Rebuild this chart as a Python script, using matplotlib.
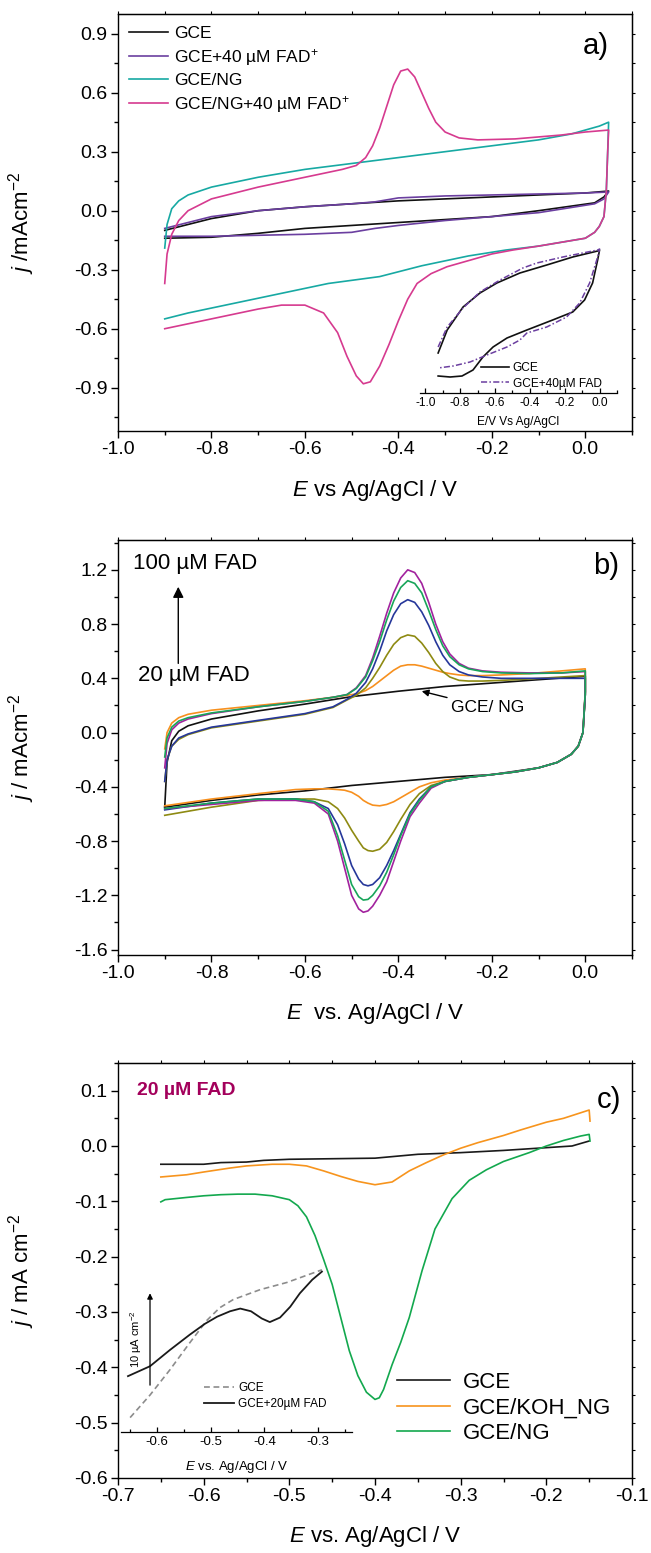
import matplotlib
matplotlib.use('Agg')
import matplotlib.pyplot as plt
from matplotlib.ticker import MultipleLocator, FuncFormatter, NullFormatter

plt.rcParams['font.family'] = ['Liberation Sans', 'DejaVu Sans']
plt.rcParams['mathtext.fontset'] = 'custom'
plt.rcParams['mathtext.rm'] = 'Liberation Sans'
plt.rcParams['mathtext.it'] = 'Liberation Sans:italic'
plt.rcParams['mathtext.bf'] = 'Liberation Sans:bold'
plt.rcParams['axes.unicode_minus'] = False

# ---------------- Panel a data ----------------
aE_gce_up = [-0.90, -0.80, -0.70, -0.60, -0.50, -0.40, -0.30, -0.20, -0.10, 0.00, 0.05]
aj_gce_up = [-0.10, -0.04, 0.00, 0.02, 0.035, 0.05, 0.06, 0.07, 0.08, 0.09, 0.10]
aE_gce_dn = [0.05, 0.04, 0.02, -0.10, -0.20, -0.30, -0.40, -0.50, -0.60, -0.70, -0.80, -0.90]
aj_gce_dn = [0.10, 0.07, 0.04, 0.00, -0.03, -0.045, -0.06, -0.075, -0.09, -0.115, -0.135, -0.14]

aE_fad_up = [-0.90, -0.80, -0.70, -0.60, -0.50, -0.45, -0.40, -0.35, -0.30, -0.20, -0.10, 0.00, 0.05]
aj_fad_up = [-0.09, -0.03, 0.00, 0.02, 0.035, 0.045, 0.065, 0.07, 0.075, 0.08, 0.085, 0.09, 0.095]
aE_fad_dn = [0.05, 0.04, 0.02, -0.10, -0.20, -0.30, -0.40, -0.45, -0.50, -0.60, -0.70, -0.80, -0.90]
aj_fad_dn = [0.095, 0.06, 0.035, -0.01, -0.03, -0.05, -0.075, -0.09, -0.11, -0.12, -0.125, -0.13, -0.13]

aE_ng_up = [-0.900, -0.895, -0.885, -0.870, -0.850, -0.800, -0.700, -0.600, -0.500, -0.400,
            -0.300, -0.200, -0.100, -0.030, 0.000, 0.030, 0.050]
aj_ng_up = [-0.19, -0.07, 0.01, 0.05, 0.08, 0.12, 0.17, 0.21, 0.24, 0.27,
            0.30, 0.33, 0.36, 0.39, 0.41, 0.43, 0.45]
aE_ng_dn = [0.050, 0.048, 0.045, 0.040, 0.030, 0.020, 0.000, -0.100, -0.170, -0.250,
            -0.350, -0.440, -0.550, -0.650, -0.750, -0.850, -0.900]
aj_ng_dn = [0.45, 0.30, 0.10, -0.03, -0.08, -0.11, -0.14, -0.18, -0.20, -0.23,
            -0.28, -0.335, -0.37, -0.42, -0.47, -0.52, -0.55]

aE_ngfad_up = [-0.900, -0.895, -0.885, -0.870, -0.850, -0.800, -0.700, -0.600, -0.520, -0.490,
               -0.470, -0.455, -0.440, -0.425, -0.410, -0.395, -0.380, -0.365, -0.350, -0.335,
               -0.320, -0.300, -0.270, -0.230, -0.150, -0.050, 0.000, 0.050]
aj_ngfad_up = [-0.37, -0.22, -0.12, -0.05, 0.00, 0.06, 0.12, 0.17, 0.21, 0.23,
               0.27, 0.33, 0.42, 0.53, 0.64, 0.71, 0.72, 0.68, 0.60, 0.52,
               0.45, 0.40, 0.37, 0.36, 0.365, 0.385, 0.40, 0.41]
aE_ngfad_dn = [0.050, 0.048, 0.045, 0.040, 0.030, 0.020, 0.000, -0.100, -0.155, -0.200,
               -0.296, -0.330, -0.360, -0.380, -0.400, -0.420, -0.440, -0.460, -0.475, -0.490,
               -0.510, -0.530, -0.560, -0.600, -0.650, -0.700, -0.800, -0.900]
aj_ngfad_dn = [0.41, 0.30, 0.10, -0.03, -0.08, -0.11, -0.14, -0.18, -0.20, -0.22,
               -0.285, -0.32, -0.37, -0.45, -0.56, -0.68, -0.79, -0.87, -0.88, -0.84,
               -0.74, -0.62, -0.52, -0.48, -0.48, -0.50, -0.55, -0.60]

# inset of panel a (arbitrary current units)
aiE_gce = [-0.926, -0.874, -0.783, -0.686, -0.589, -0.457, -0.303, -0.154, -0.011, 0.000,
           -0.011, -0.040, -0.086, -0.154, -0.269, -0.417, -0.531, -0.611, -0.669, -0.726,
           -0.789, -0.857, -0.926]
aij_gce = [0.40, 0.63, 0.86, 1.00, 1.10, 1.20, 1.28, 1.36, 1.42, 1.43,
           1.33, 1.10, 0.93, 0.81, 0.73, 0.63, 0.55, 0.46, 0.36, 0.23,
           0.17, 0.16, 0.17]
aiE_fad = [-0.926, -0.874, -0.783, -0.686, -0.571, -0.440, -0.360, -0.211, -0.011, 0.000,
           -0.011, -0.057, -0.114, -0.189, -0.303, -0.417, -0.457, -0.531, -0.646, -0.743,
           -0.840, -0.926]
aij_fad = [0.46, 0.66, 0.85, 1.01, 1.13, 1.25, 1.30, 1.36, 1.43, 1.44,
           1.36, 1.10, 0.90, 0.76, 0.66, 0.60, 0.53, 0.46, 0.38, 0.31,
           0.27, 0.25]

# ---------------- Panel b data ----------------
bE_up = [-0.900, -0.895, -0.885, -0.870, -0.850, -0.800, -0.700, -0.600, -0.540, -0.510,
         -0.490, -0.470, -0.455, -0.440, -0.425, -0.410, -0.395, -0.380, -0.365, -0.350,
         -0.335, -0.320, -0.305, -0.290, -0.270, -0.250, -0.220, -0.180, -0.120, -0.050, 0.000]
bE_dn = [0.000, 0.000, -0.005, -0.015, -0.030, -0.060, -0.100, -0.150, -0.200, -0.250,
         -0.300, -0.330, -0.355, -0.375, -0.395, -0.410, -0.425, -0.440, -0.455, -0.465,
         -0.475, -0.485, -0.500, -0.515, -0.530, -0.550, -0.580, -0.620, -0.700, -0.800, -0.900]

b100_up = [-0.26, -0.08, 0.02, 0.07, 0.10, 0.14, 0.19, 0.23, 0.26, 0.28,
           0.33, 0.42, 0.55, 0.71, 0.88, 1.03, 1.14, 1.20, 1.18, 1.10,
           0.96, 0.80, 0.67, 0.58, 0.51, 0.475, 0.455, 0.445, 0.44, 0.44, 0.45]
b100_dn = [0.45, 0.30, 0.00, -0.10, -0.16, -0.22, -0.26, -0.29, -0.31, -0.33,
           -0.36, -0.41, -0.52, -0.62, -0.80, -0.95, -1.10, -1.20, -1.28, -1.315,
           -1.325, -1.30, -1.20, -1.00, -0.80, -0.60, -0.52, -0.50, -0.50, -0.53, -0.56]
b80_up = [-0.18, -0.04, 0.04, 0.085, 0.11, 0.145, 0.19, 0.23, 0.26, 0.28,
          0.325, 0.41, 0.53, 0.67, 0.83, 0.97, 1.07, 1.12, 1.10, 1.03,
          0.90, 0.76, 0.64, 0.56, 0.50, 0.47, 0.45, 0.44, 0.435, 0.44, 0.455]
b80_dn = [0.455, 0.30, 0.00, -0.10, -0.16, -0.22, -0.26, -0.29, -0.31, -0.33,
          -0.36, -0.40, -0.50, -0.60, -0.76, -0.90, -1.03, -1.13, -1.20, -1.23,
          -1.235, -1.21, -1.12, -0.94, -0.76, -0.58, -0.51, -0.49, -0.49, -0.52, -0.56]
b60_up = [-0.36, -0.20, -0.10, -0.04, -0.01, 0.04, 0.09, 0.14, 0.19, 0.245,
          0.29, 0.37, 0.47, 0.60, 0.75, 0.87, 0.95, 0.98, 0.96, 0.89,
          0.79, 0.67, 0.57, 0.50, 0.45, 0.425, 0.41, 0.40, 0.40, 0.40, 0.40]
b60_dn = [0.40, 0.28, 0.00, -0.10, -0.16, -0.22, -0.26, -0.29, -0.31, -0.33,
          -0.36, -0.40, -0.49, -0.59, -0.75, -0.87, -0.98, -1.07, -1.12, -1.13,
          -1.12, -1.08, -0.98, -0.82, -0.68, -0.56, -0.51, -0.49, -0.49, -0.52, -0.57]
b40_up = [-0.36, -0.20, -0.10, -0.05, -0.015, 0.035, 0.085, 0.135, 0.185, 0.24,
          0.275, 0.33, 0.40, 0.48, 0.57, 0.65, 0.70, 0.72, 0.71, 0.66,
          0.59, 0.51, 0.45, 0.41, 0.385, 0.38, 0.38, 0.385, 0.395, 0.41, 0.42]
b40_dn = [0.42, 0.28, 0.00, -0.10, -0.16, -0.22, -0.26, -0.29, -0.31, -0.33,
          -0.36, -0.39, -0.45, -0.53, -0.64, -0.73, -0.81, -0.86, -0.875, -0.87,
          -0.85, -0.80, -0.72, -0.63, -0.56, -0.51, -0.49, -0.49, -0.50, -0.55, -0.61]
b20_up = [-0.12, 0.00, 0.07, 0.11, 0.135, 0.165, 0.20, 0.235, 0.26, 0.275,
          0.285, 0.31, 0.34, 0.38, 0.42, 0.46, 0.49, 0.50, 0.50, 0.49,
          0.475, 0.46, 0.445, 0.435, 0.425, 0.42, 0.42, 0.425, 0.435, 0.455, 0.47]
b20_dn = [0.47, 0.30, 0.00, -0.10, -0.16, -0.22, -0.26, -0.29, -0.31, -0.33,
          -0.35, -0.37, -0.40, -0.44, -0.48, -0.51, -0.53, -0.54, -0.535, -0.52,
          -0.50, -0.47, -0.44, -0.425, -0.42, -0.415, -0.415, -0.42, -0.45, -0.49, -0.54]

bE_ng_up = [-0.900, -0.895, -0.885, -0.870, -0.850, -0.800, -0.700, -0.600, -0.500, -0.400,
            -0.300, -0.200, -0.100, 0.000]
bj_ng_up = [-0.55, -0.22, -0.06, 0.01, 0.05, 0.10, 0.16, 0.21, 0.265, 0.305,
            0.34, 0.365, 0.39, 0.415]
bE_ng_dn = [0.000, 0.000, -0.005, -0.015, -0.030, -0.060, -0.100, -0.200, -0.300, -0.400,
            -0.500, -0.600, -0.700, -0.800, -0.900]
bj_ng_dn = [0.415, 0.28, 0.00, -0.10, -0.16, -0.22, -0.26, -0.31, -0.33, -0.36,
            -0.39, -0.43, -0.46, -0.50, -0.55]

# ---------------- Panel c data ----------------
cE_gce = [-0.65, -0.60, -0.58, -0.55, -0.53, -0.50, -0.45, -0.40, -0.35, -0.30, -0.25, -0.20, -0.17, -0.15]
cj_gce = [-0.033, -0.033, -0.030, -0.029, -0.026, -0.024, -0.023, -0.022, -0.015, -0.012, -0.008, -0.003, 0.000, 0.009]

cE_koh = [-0.650, -0.620, -0.600, -0.570, -0.550, -0.520, -0.500, -0.480, -0.460, -0.440,
          -0.420, -0.400, -0.380, -0.360, -0.340, -0.320, -0.300, -0.280, -0.250, -0.230,
          -0.200, -0.180, -0.160, -0.150, -0.149]
cj_koh = [-0.056, -0.052, -0.047, -0.040, -0.036, -0.033, -0.033, -0.036, -0.045, -0.055,
          -0.064, -0.070, -0.065, -0.045, -0.030, -0.016, -0.004, 0.006, 0.019, 0.029,
          0.043, 0.050, 0.060, 0.065, 0.045]

cE_ng = [-0.650, -0.645, -0.620, -0.600, -0.580, -0.560, -0.540, -0.520, -0.500, -0.490,
         -0.480, -0.470, -0.460, -0.450, -0.440, -0.430, -0.420, -0.410, -0.400, -0.395,
         -0.390, -0.380, -0.370, -0.360, -0.345, -0.330, -0.310, -0.290, -0.270, -0.250,
         -0.220, -0.200, -0.180, -0.160, -0.150, -0.149]
cj_ng = [-0.101, -0.097, -0.093, -0.090, -0.088, -0.087, -0.087, -0.090, -0.097, -0.108,
         -0.128, -0.162, -0.205, -0.250, -0.310, -0.370, -0.415, -0.445, -0.458, -0.455,
         -0.440, -0.395, -0.355, -0.310, -0.225, -0.150, -0.095, -0.062, -0.043, -0.028,
         -0.012, 0.000, 0.010, 0.018, 0.021, 0.009]

# inset of panel c (uA cm-2, relative)
ciE_gce = [-0.650, -0.613, -0.576, -0.539, -0.507, -0.483, -0.458, -0.408, -0.358, -0.321, -0.293]
cij_gce = [1.6, 4.1, 6.9, 9.9, 12.4, 13.8, 14.7, 15.8, 16.6, 17.4, 18.0]
ciE_fad = [-0.654, -0.613, -0.576, -0.539, -0.511, -0.488, -0.464, -0.445, -0.425, -0.405,
           -0.390, -0.371, -0.352, -0.334, -0.311, -0.293]
cij_fad = [6.2, 7.3, 9.1, 10.8, 12.0, 12.8, 13.4, 13.7, 13.4, 12.6,
           12.2, 12.7, 13.9, 15.4, 16.9, 17.8]

ab_xticks = [-1.0, -0.8, -0.6, -0.4, -0.2, 0.0]
a_yticks = [-0.9, -0.6, -0.3, 0.0, 0.3, 0.6, 0.9]
b_yticks = [-1.6, -1.2, -0.8, -0.4, 0.0, 0.4, 0.8, 1.2]
c_xticks = [-0.7, -0.6, -0.5, -0.4, -0.3, -0.2, -0.1]
c_yticks = [-0.6, -0.5, -0.4, -0.3, -0.2, -0.1, 0.0, 0.1]
ai_xticks = [-1.0, -0.8, -0.6, -0.4, -0.2, 0.0]
ci_xticks = [-0.6, -0.5, -0.4, -0.3]

# ---------------- figure ----------------
W, H = 651, 1553
fig = plt.figure(figsize=(W / 100, H / 100), dpi=100)


def rect(x0, y0, x1, y1):
    return [x0 / W, 1 - y1 / H, (x1 - x0) / W, (y1 - y0) / H]


def fpt(x, y):
    return (x / W, 1 - y / H)


fmt = FuncFormatter(lambda v, p: '%.1f' % (round(v, 1) + 0.0))
LW = 1.2


def style(ax, xt, yt, xminor, yminor):
    ax.set_xticks(xt)
    ax.set_yticks(yt)
    ax.xaxis.set_minor_locator(MultipleLocator(xminor))
    ax.yaxis.set_minor_locator(MultipleLocator(yminor))
    ax.xaxis.set_major_formatter(fmt)
    ax.yaxis.set_major_formatter(fmt)
    ax.tick_params(which='both', direction='out', labelsize=14, width=1.0)
    ax.tick_params(which='major', length=5, pad=2.5)
    ax.tick_params(which='minor', length=3)
    for s in ax.spines.values():
        s.set_linewidth(1.0)
    sx = ax.secondary_xaxis('top')
    sx.xaxis.set_major_locator(MultipleLocator(xminor))
    sx.xaxis.set_major_formatter(NullFormatter())
    sx.tick_params(direction='out', length=2.5, width=0.8)
    sy = ax.secondary_yaxis('right')
    sy.yaxis.set_major_locator(MultipleLocator(yminor))
    sy.yaxis.set_major_formatter(NullFormatter())
    sy.tick_params(direction='out', length=2.5, width=0.8)


def labels(ax, xl, yl, xy=-0.142, yx=-0.187):
    ax.set_xlabel(xl, fontsize=16)
    ax.set_ylabel(yl, fontsize=16)
    ax.xaxis.set_label_coords(0.5, xy)
    ax.xaxis.label.set_va('center')
    ax.yaxis.set_label_coords(yx, 0.5)
    ax.yaxis.label.set_va('center')


# ---- Panel a ----
axa = fig.add_axes(rect(118, 14, 632, 431))
axa.plot(aE_gce_up + aE_gce_dn, aj_gce_up + aj_gce_dn, color='#111111', lw=LW, label='GCE')
axa.plot(aE_fad_up + aE_fad_dn, aj_fad_up + aj_fad_dn, color='#6B3FA0', lw=LW,
         label='GCE+40 µM FAD$^{+}$')
axa.plot(aE_ng_up + aE_ng_dn, aj_ng_up + aj_ng_dn, color='#17A9A3', lw=LW, label='GCE/NG')
axa.plot(aE_ngfad_up + aE_ngfad_dn, aj_ngfad_up + aj_ngfad_dn, color='#D63A8F', lw=LW,
         label='GCE/NG+40 µM FAD$^{+}$')
axa.set_xlim(-1.0, 0.1)
axa.set_ylim(-1.12, 1.0)
style(axa, ab_xticks, a_yticks, 0.1, 0.15)
labels(axa, '$E$ vs Ag/AgCl / V', '$j$ /mAcm$^{-2}$')
axa.legend(loc='upper left', bbox_to_anchor=fpt(129, 26), bbox_transform=fig.transFigure,
           frameon=False, fontsize=12.5, handlelength=2.25, handletextpad=0.35,
           labelspacing=0.32, borderpad=0, borderaxespad=0)
fig.text(*fpt(583, 46), 'a)', fontsize=21, ha='left', va='center')

# inset a
axai = fig.add_axes(rect(420, 245, 617, 393))
axai.patch.set_alpha(0)
axai.plot(aiE_gce, aij_gce, color='#111111', lw=1.2, label='GCE')
axai.plot(aiE_fad, aij_fad, color='#6B3FA0', lw=1.1, dashes=(4, 1.5, 1, 1.5),
          label='GCE+40µM FAD')
axai.set_xlim(-1.03, 0.1)
axai.set_ylim(0, 1.48)
for s in ['left', 'top', 'right']:
    axai.spines[s].set_visible(False)
axai.spines['bottom'].set_linewidth(0.9)
axai.set_yticks([])
axai.set_xticks(ai_xticks)
axai.xaxis.set_minor_locator(MultipleLocator(0.1))
axai.xaxis.set_major_formatter(fmt)
axai.tick_params(which='both', direction='in', labelsize=8.6, width=0.9, pad=3)
axai.tick_params(which='major', length=3.5)
axai.tick_params(which='minor', length=2)
axai.set_xlabel('E/V Vs Ag/AgCl', fontsize=8.6)
axai.xaxis.set_label_coords(0.5, -0.196)
axai.xaxis.label.set_va('center')
axai.legend(loc='upper left', bbox_to_anchor=fpt(481, 362), bbox_transform=fig.transFigure,
            frameon=False, fontsize=8.6, handlelength=2.35, handletextpad=0.3,
            labelspacing=0.3, borderpad=0, borderaxespad=0)

# ---- Panel b ----
axb = fig.add_axes(rect(118, 540, 632, 955))
axb.plot(bE_ng_up + bE_ng_dn, bj_ng_up + bj_ng_dn, color='#111111', lw=LW)
axb.plot(bE_up + bE_dn, b20_up + b20_dn, color='#F7901E', lw=LW)
axb.plot(bE_up + bE_dn, b40_up + b40_dn, color='#8E8A12', lw=LW)
axb.plot(bE_up + bE_dn, b60_up + b60_dn, color='#26379A', lw=LW)
axb.plot(bE_up + bE_dn, b100_up + b100_dn, color='#A2229E', lw=LW)
axb.plot(bE_up + bE_dn, b80_up + b80_dn, color='#18A55A', lw=LW)
axb.set_xlim(-1.0, 0.1)
axb.set_ylim(-1.64, 1.42)
style(axb, ab_xticks, b_yticks, 0.1, 0.2)
labels(axb, '$E$  vs. Ag/AgCl / V', '$j$ / mAcm$^{-2}$')
axb.annotate('', xy=(-0.871, 1.075), xytext=(-0.871, 0.51),
             arrowprops=dict(arrowstyle='-|>', color='black', lw=1.0, mutation_scale=16,
                             shrinkA=0, shrinkB=0))
axb.text(-0.968, 1.25, '100 µM FAD', fontsize=16, ha='left', va='center')
axb.text(-0.957, 0.42, '20 µM FAD', fontsize=16, ha='left', va='center')
axb.annotate('GCE/ NG', xy=(-0.350, 0.305), xytext=(-0.287, 0.183), fontsize=12.5,
             ha='left', va='center',
             arrowprops=dict(arrowstyle='-|>', color='black', lw=1.0, mutation_scale=10,
                             shrinkA=1, shrinkB=0))
fig.text(*fpt(593, 566), 'b)', fontsize=21, ha='left', va='center')

# ---- Panel c ----
axc = fig.add_axes(rect(118, 1063, 632, 1478))
axc.plot(cE_gce, cj_gce, color='#1a1a1a', lw=LW, label='GCE')
axc.plot(cE_koh, cj_koh, color='#F7941D', lw=LW, label='GCE/KOH_NG')
axc.plot(cE_ng, cj_ng, color='#13A84E', lw=LW, label='GCE/NG')
axc.set_xlim(-0.7, -0.1)
axc.set_ylim(-0.6, 0.15)
style(axc, c_xticks, c_yticks, 0.05, 0.05)
labels(axc, '$E$ vs. Ag/AgCl / V', '$j$ / mA cm$^{-2}$')
axc.legend(loc='upper left', bbox_to_anchor=fpt(397, 1372), bbox_transform=fig.transFigure,
           frameon=False, fontsize=16, handlelength=2.4, handletextpad=0.55,
           labelspacing=0.2, borderpad=0, borderaxespad=0)
axc.text(-0.678, 0.10, '20 µM FAD', fontsize=14, fontweight='bold', color='#A3005B',
         ha='left', va='center')
fig.text(*fpt(597, 1100), 'c)', fontsize=21, ha='left', va='center')

# inset c
axci = fig.add_axes(rect(121, 1250, 352, 1432))
axci.patch.set_alpha(0)
axci.plot(ciE_gce, cij_gce, color='#8c8c8c', lw=1.2, dashes=(3.5, 2.2), label='GCE')
axci.plot(ciE_fad, cij_fad, color='#1a1a1a', lw=1.3, label='GCE+20µM FAD')
axci.set_xlim(-0.667, -0.237)
axci.set_ylim(0, 20.2)
for s in ['left', 'top', 'right']:
    axci.spines[s].set_visible(False)
axci.spines['bottom'].set_linewidth(0.9)
axci.set_yticks([])
axci.set_xticks(ci_xticks)
axci.xaxis.set_minor_locator(MultipleLocator(0.05))
axci.xaxis.set_major_formatter(fmt)
axci.tick_params(which='both', direction='in', labelsize=9.5, width=0.9, pad=3)
axci.tick_params(which='major', length=3.5)
axci.tick_params(which='minor', length=2)
axci.set_xlabel('$E$ vs. Ag/AgCl / V', fontsize=9.5)
axci.xaxis.set_label_coords(0.5, -0.19)
axci.xaxis.label.set_va('center')
axci.annotate('', xy=(-0.613, 15.4), xytext=(-0.613, 5.2),
              arrowprops=dict(arrowstyle='-|>', color='black', lw=0.9, mutation_scale=8,
                              shrinkA=0, shrinkB=0))
axci.text(-0.638, 10.3, '10 µA cm$^{-2}$', rotation=90, fontsize=8, ha='center', va='center')
axci.legend(loc='upper left', bbox_to_anchor=fpt(204, 1382), bbox_transform=fig.transFigure,
            frameon=False, fontsize=8.5, handlelength=2.5, handletextpad=0.4,
            labelspacing=0.35, borderpad=0, borderaxespad=0)

fig.savefig('out.png', dpi=100)
